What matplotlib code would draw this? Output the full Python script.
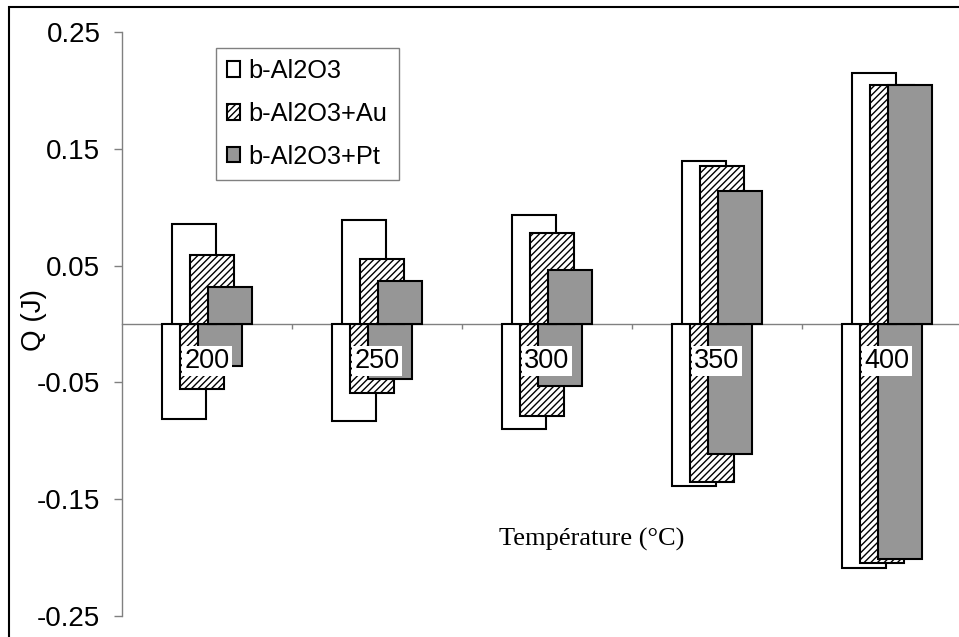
import matplotlib
matplotlib.use("Agg")
import matplotlib.pyplot as plt
import numpy as np
from matplotlib.patches import Rectangle

# ---- data ----
categories = ["200", "250", "300", "350", "400"]
series_names = ["b-Al2O3", "b-Al2O3+Au", "b-Al2O3+Pt"]
pos_al2o3 = [0.086, 0.089, 0.093, 0.140, 0.215]
pos_au = [0.059, 0.056, 0.078, 0.135, 0.205]
pos_pt = [0.032, 0.037, 0.046, 0.114, 0.205]
neg_al2o3 = [-0.081, -0.083, -0.090, -0.139, -0.209]
neg_au = [-0.056, -0.059, -0.079, -0.135, -0.205]
neg_pt = [-0.036, -0.047, -0.053, -0.111, -0.201]
yticks = [-0.25, -0.15, -0.05, 0.05, 0.15, 0.25]
ytick_labels = ["-0.25", "-0.15", "-0.05", "0.05", "0.15", "0.25"]

plt.rcParams['font.family'] = ['Liberation Sans', 'DejaVu Sans']
plt.rcParams['hatch.linewidth'] = 1.0

W, H = 959, 637
fig = plt.figure(figsize=(W / 100, H / 100), dpi=100)
# axes spanning pixels x 122..972, y 32.3..615.7 (right part clipped like the source)
ax = fig.add_axes([122 / W, (H - 615.7) / H, 850 / W, (615.7 - 32.3) / H])

x = np.arange(len(categories))
cat_px = 170.0
width = 44 / cat_px
pos_off = [-13 / cat_px, 5 / cat_px, 23 / cat_px]
neg_off = [-23 / cat_px, -5 / cat_px, 13 / cat_px]
styles = [
    dict(facecolor="white", hatch=None),
    dict(facecolor="white", hatch="/////"),
    dict(facecolor="#969696", hatch=None),
]
pos_vals = [pos_al2o3, pos_au, pos_pt]
neg_vals = [neg_al2o3, neg_au, neg_pt]

handles = []
for i in range(3):
    ax.bar(x + neg_off[i], neg_vals[i], width=width, edgecolor="black",
           linewidth=1.5, zorder=3 + i * 0.1, **styles[i])
for i in range(3):
    b = ax.bar(x + pos_off[i], pos_vals[i], width=width, edgecolor="black",
               linewidth=1.5, zorder=3.5 + i * 0.1, label=series_names[i], **styles[i])
    handles.append(b)

ax.set_xlim(-0.5, len(categories) - 0.5)
ax.set_ylim(-0.25, 0.25)

# spines
for s in ["top", "right"]:
    ax.spines[s].set_visible(False)
ax.spines["left"].set_color("#808080")
ax.spines["left"].set_linewidth(1.0)
ax.spines["bottom"].set_position(("data", 0))
ax.spines["bottom"].set_color("#808080")
ax.spines["bottom"].set_linewidth(1.0)
ax.spines["bottom"].set_zorder(2)

ax.set_yticks(yticks)
ax.set_yticklabels(ytick_labels, fontsize=20)
ax.tick_params(axis="y", direction="out", length=5.5, width=1, color="#808080", pad=10)
ax.set_xticks(x[:-1] + 0.5)
ax.set_xticklabels([])
ax.tick_params(axis="x", direction="out", length=3.5, width=1, color="#808080")

# category labels
for xi, lab in zip(x, categories):
    ax.annotate(lab, xy=(xi, 0), xytext=(0, -37), textcoords="offset pixels",
                ha="center", va="center", fontsize=19.5, zorder=6,
                bbox=dict(boxstyle="square,pad=0.08", fc="white", ec="none"))

# y-axis title
fig.text(34 / W, 1 - 320 / H, "Q (J)", rotation=90, ha="center", va="center",
         fontsize=20)

ax.text((592 - 122) / 850, (615.7 - 539) / 583.4, "Température (°C)",
        transform=ax.transAxes, ha="center", va="center", fontsize=19,
        family=["Liberation Serif", "DejaVu Serif"])

leg = ax.legend(handles=handles, loc="upper left",
                bbox_to_anchor=(215.7 / W, 1 - 47.7 / H),
                bbox_transform=fig.transFigure, borderaxespad=0,
                fontsize=18.3, handlelength=0.52, handleheight=0.55,
                handletextpad=0.32, labelspacing=0.74, borderpad=0.45,
                fancybox=False, framealpha=1, edgecolor="#808080")
leg.get_frame().set_linewidth(1.0)
leg.set_zorder(10)

# outer chart frame (right/bottom edges outside the picture)
fig.patches.append(Rectangle((9 / W, -0.05), 1.2, (H - 7) / H + 0.05,
                             transform=fig.transFigure, fill=False,
                             edgecolor="black", linewidth=1.5, clip_on=False))

fig.savefig("out.png", dpi=100)
